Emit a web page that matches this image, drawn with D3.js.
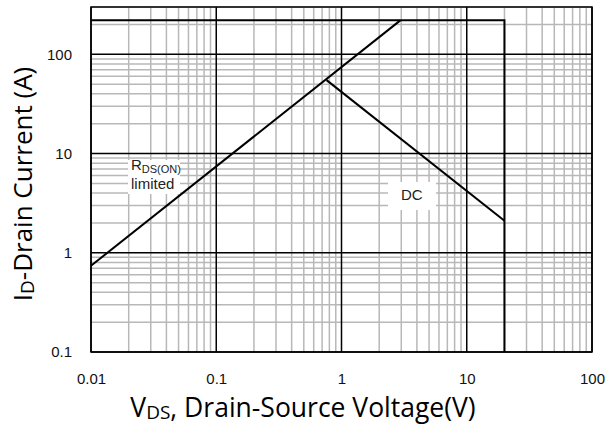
<!DOCTYPE html>
<html>
<head>
<meta charset="utf-8">
<script src="https://cdn.jsdelivr.net/npm/d3@7"></script>
<style>
  body { margin: 0; background: #fff; }
  svg { display: block; }
</style>
</head>
<body>
<div id="chart"></div>
<script>
// Dados
const xTicks = [0.01, 0.1, 1, 10, 100];
const yTicks = [0.1, 1, 10, 100];
const xTickLabels = ["0.01", "0.1", "1", "10", "100"];
const yTickLabels = ["0.1", "1", "10", "100"];

// Limite Rds(on): I = V / R
const rdsV = [0.01, 2.95];
const rdsI = [0.74, 220];

// Limite de corrente + limite de tensão (envelope)
const limitV = [0.01, 20, 20];
const limitI = [220, 220, 0.1];

// Curva DC
const dcV = [0.76, 20];
const dcI = [55, 2.1];

const width = 613;
const height = 427;
const margin = { top: 7, right: 21, bottom: 75, left: 91 };
const innerW = width - margin.left - margin.right;
const innerH = height - margin.top - margin.bottom;

const svg = d3.select("#chart")
    .append("svg")
    .attr("width", width)
    .attr("height", height);

const g = svg.append("g")
    .attr("transform", `translate(${margin.left},${margin.top})`);

const x = d3.scaleLog().domain([0.01, 100]).range([0, innerW]);
const y = d3.scaleLog().domain([0.1, 300]).range([innerH, 0]);

// Grade menor (2..9 de cada década)
const minorX = [];
for (let d = 0.01; d < 100; d *= 10) for (let k = 2; k <= 9; k++) minorX.push(d * k);
const minorY = [];
for (let d = 0.1; d < 1000; d *= 10) for (let k = 2; k <= 9; k++) if (d * k <= 300) minorY.push(d * k);

g.selectAll(".minx").data(minorX).enter().append("line")
    .attr("x1", d => x(d)).attr("x2", d => x(d))
    .attr("y1", 0).attr("y2", innerH)
    .attr("stroke", "#b8b8b8").attr("stroke-width", 1.5);

g.selectAll(".miny").data(minorY).enter().append("line")
    .attr("y1", d => y(d)).attr("y2", d => y(d))
    .attr("x1", 0).attr("x2", innerW)
    .attr("stroke", "#b8b8b8").attr("stroke-width", 1.5);

// Grade maior
g.selectAll(".majx").data(xTicks).enter().append("line")
    .attr("x1", d => x(d)).attr("x2", d => x(d))
    .attr("y1", 0).attr("y2", innerH)
    .attr("stroke", "#000").attr("stroke-width", 1.5);

g.selectAll(".majy").data(yTicks).enter().append("line")
    .attr("y1", d => y(d)).attr("y2", d => y(d))
    .attr("x1", 0).attr("x2", innerW)
    .attr("stroke", "#000").attr("stroke-width", 1.5);

// Borda
g.append("rect")
    .attr("width", innerW).attr("height", innerH)
    .attr("fill", "none").attr("stroke", "#000").attr("stroke-width", 1.5);

// Eixos (apenas rótulos)
const xAxis = g.append("g")
    .attr("transform", `translate(0,${innerH})`)
    .call(d3.axisBottom(x).tickValues(xTicks).tickFormat((d, i) => xTickLabels[i]).tickSize(0).tickPadding(21));
const yAxis = g.append("g")
    .call(d3.axisLeft(y).tickValues(yTicks).tickFormat((d, i) => yTickLabels[i]).tickSize(0).tickPadding(19));

[xAxis, yAxis].forEach(a => {
    a.select(".domain").remove();
    a.selectAll("text")
        .attr("font-family", "Liberation Sans, Arial, sans-serif")
        .attr("font-size", 15)
        .attr("fill", "#111");
});

// Curvas
const line = d3.line().x(d => x(d[0])).y(d => y(d[1]));

const curves = [
    d3.zip(rdsV, rdsI),
    d3.zip(limitV, limitI),
    d3.zip(dcV, dcI)
];
g.selectAll(".curve").data(curves).enter().append("path")
    .attr("d", line)
    .attr("fill", "none")
    .attr("stroke", "#000")
    .attr("stroke-width", 2);

// Anotações com fundo branco
svg.append("rect").attr("x", 128).attr("y", 160).attr("width", 52).attr("height", 34).attr("fill", "#fff");
const rdsLabel = svg.append("text")
    .attr("x", 131).attr("y", 170)
    .attr("font-family", "Liberation Sans, Arial, sans-serif")
    .attr("font-size", 15).attr("fill", "#222");
rdsLabel.append("tspan").text("R");
rdsLabel.append("tspan").attr("font-size", 11).attr("dy", 3).text("DS(ON)");
svg.append("text")
    .attr("x", 131).attr("y", 189)
    .attr("font-family", "Liberation Sans, Arial, sans-serif")
    .attr("font-size", 15).attr("fill", "#222")
    .text("limited");

svg.append("rect").attr("x", 388).attr("y", 182).attr("width", 48).attr("height", 28).attr("fill", "#fff");
svg.append("text")
    .attr("x", 401).attr("y", 200)
    .attr("font-family", "Liberation Sans, Arial, sans-serif")
    .attr("font-size", 15).attr("fill", "#222")
    .text("DC");

// Títulos dos eixos
const xt = svg.append("text")
    .attr("x", 303).attr("y", 417)
    .attr("text-anchor", "middle")
    .attr("font-family", "Open Sans, Noto Sans, sans-serif")
    .attr("font-size", 26.5).attr("fill", "#000");
xt.append("tspan").text("V");
xt.append("tspan").attr("font-size", 19).attr("dy", 2).text("DS");
xt.append("tspan").attr("dy", -2).text(", Drain-Source Voltage(V)");

const yt = svg.append("text")
    .attr("transform", "translate(32,184) rotate(-90)")
    .attr("text-anchor", "middle")
    .attr("font-family", "Open Sans, Noto Sans, sans-serif")
    .attr("font-size", 26).attr("fill", "#000");
yt.append("tspan").text("I");
yt.append("tspan").attr("font-size", 19).attr("dy", 2).text("D");
yt.append("tspan").attr("dy", -2).text("-Drain Current (A)");
</script>
</body>
</html>
